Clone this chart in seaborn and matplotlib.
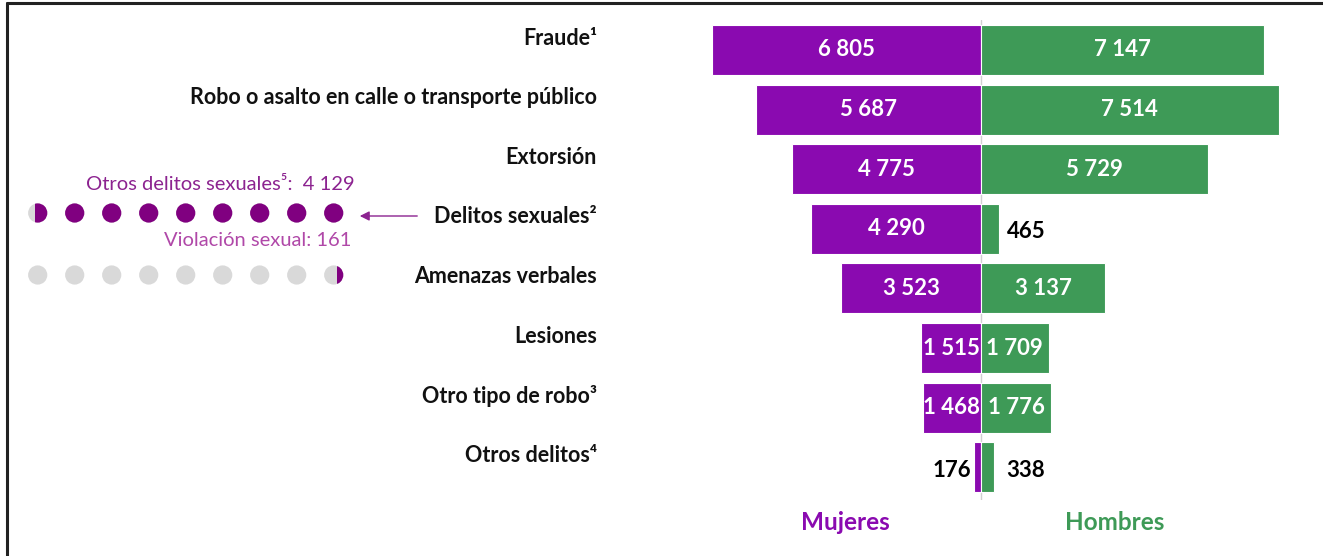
import numpy as np
import pandas as pd
import matplotlib.pyplot as plt
import matplotlib.transforms as mtransforms
import seaborn as sns
from matplotlib.patches import Circle, Rectangle
from matplotlib.lines import Line2D

# data
categorias = ['Fraude¹', 'Robo o asalto en calle o transporte público', 'Extorsión',
              'Delitos sexuales²', 'Amenazas verbales', 'Lesiones',
              'Otro tipo de robo³', 'Otros delitos⁴']
mujeres = [6805, 5687, 4775, 4290, 3523, 1515, 1468, 176]
hombres = [7147, 7514, 5729, 465, 3137, 1709, 1776, 338]

otros_sexuales = 4129
violacion = 161
n_puntos = 9

morado = '#8A0AB0'
verde = '#3E9A57'

sns.set_style('white')
plt.rcParams['font.family'] = ['Lato', 'DejaVu Sans']

W, H = 1323, 556
fig = plt.figure(figsize=(W / 100, H / 100), dpi=100)

def fx(px):
    return px / W

def fy(py):
    return 1 - py / H

# bars axes: x pixels 700..1310, y pixels 20..500
ax = fig.add_axes([fx(700), fy(500), fx(1310) - fx(700), fy(20) - fy(500)])
df = pd.DataFrame({'cat': categorias, 'm': [-v for v in mujeres], 'h': hombres})
sns.barplot(data=df, x='m', y='cat', color=morado, width=0.84, ax=ax,
            edgecolor='white', linewidth=0.8, saturation=1)
sns.barplot(data=df, x='h', y='cat', color=verde, width=0.84, ax=ax,
            edgecolor='white', linewidth=0.8, saturation=1)
escala = 0.0396  # px per unit
ax.set_xlim(-(981 - 700) / escala, (1310 - 981) / escala)
ax.set_ylim(7.55, -0.503)
ax.axis('off')
ax.axvline(0, color='#D0D0D0', lw=1, zorder=0.5)

def fmt(v):
    return f'{v:,}'.replace(',', ' ')

trans_lab = mtransforms.blended_transform_factory(fig.transFigure, ax.transData)
for i, (w, h) in enumerate(zip(mujeres, hombres)):
    if w > 1000:
        ax.text(-w / 2, i, fmt(w), ha='center', va='center', color='white',
                fontsize=16, fontweight='bold')
    else:
        ax.text(-w - 60, i + 0.05, fmt(w), ha='right', va='center', color='black',
                fontsize=16, fontweight='bold')
    if h > 1000:
        ax.text(h / 2, i, fmt(h), ha='center', va='center', color='white',
                fontsize=16, fontweight='bold')
    else:
        ax.text(h + 200 if h > 400 else h + 300, i + 0.05, fmt(h), ha='left', va='center',
                color='black', fontsize=16, fontweight='bold')
    ax.text(fx(597), i - 0.2, categorias[i], transform=trans_lab,
            ha='right', va='center', fontsize=15.5, fontweight='bold', color='#111111')

fig.text(fx(845), fy(523), 'Mujeres', ha='center', va='center', color=morado,
         fontsize=17.5, fontweight='bold')
fig.text(fx(1115), fy(523), 'Hombres', ha='center', va='center', color=verde,
         fontsize=17.5, fontweight='bold')

# dot panel, units in pixels
ax2 = fig.add_axes([0, fy(300), fx(440), fy(160) - fy(300)])
ax2.set_xlim(0, 440)
ax2.set_ylim(300, 160)
ax2.axis('off')
x0, paso, r = 37.7, 37, 9.6
xs = [x0 + paso * k for k in range(n_puntos)]
for fila_y, valor in [(213, otros_sexuales), (275, violacion)]:
    llenos = n_puntos * valor / mujeres[3]
    for k, x in enumerate(xs):
        ax2.add_patch(Circle((x, fila_y), r, color='#D9D9D9', lw=0))
        # fill dots from the right
        parte = min(max(llenos - (n_puntos - 1 - k), 0), 1)
        if parte <= 0:
            continue
        c = Circle((x, fila_y), r, color='#800080', lw=0)
        ax2.add_patch(c)
        if parte < 1:
            corte = x + r - 2 * r * parte
            c.set_clip_path(Rectangle((corte, fila_y - r - 2), 2 * r * parte + 2, 2 * r + 4,
                                      transform=ax2.transData))

ax2.text(355, 185, 'Otros delitos sexuales⁵:  4 129', ha='right', va='center',
         color='#8C2390', fontsize=14.5)
ax2.text(351, 240, 'Violación sexual: 161', ha='right', va='center',
         color='#B048A8', fontsize=14.5)
ax2.annotate('', xy=(357, 216), xytext=(420, 216),
             arrowprops=dict(arrowstyle='-|>', color='#8C2390', lw=1,
                             mutation_scale=14))

# frame
fig.add_artist(Line2D([fx(7), fx(7)], [0, fy(3)], transform=fig.transFigure,
                      color='#222222', lw=2.2))
fig.add_artist(Line2D([fx(7), 1], [fy(3), fy(3)], transform=fig.transFigure,
                      color='#222222', lw=2.2))

fig.savefig('out.png', dpi=100, facecolor='white')
